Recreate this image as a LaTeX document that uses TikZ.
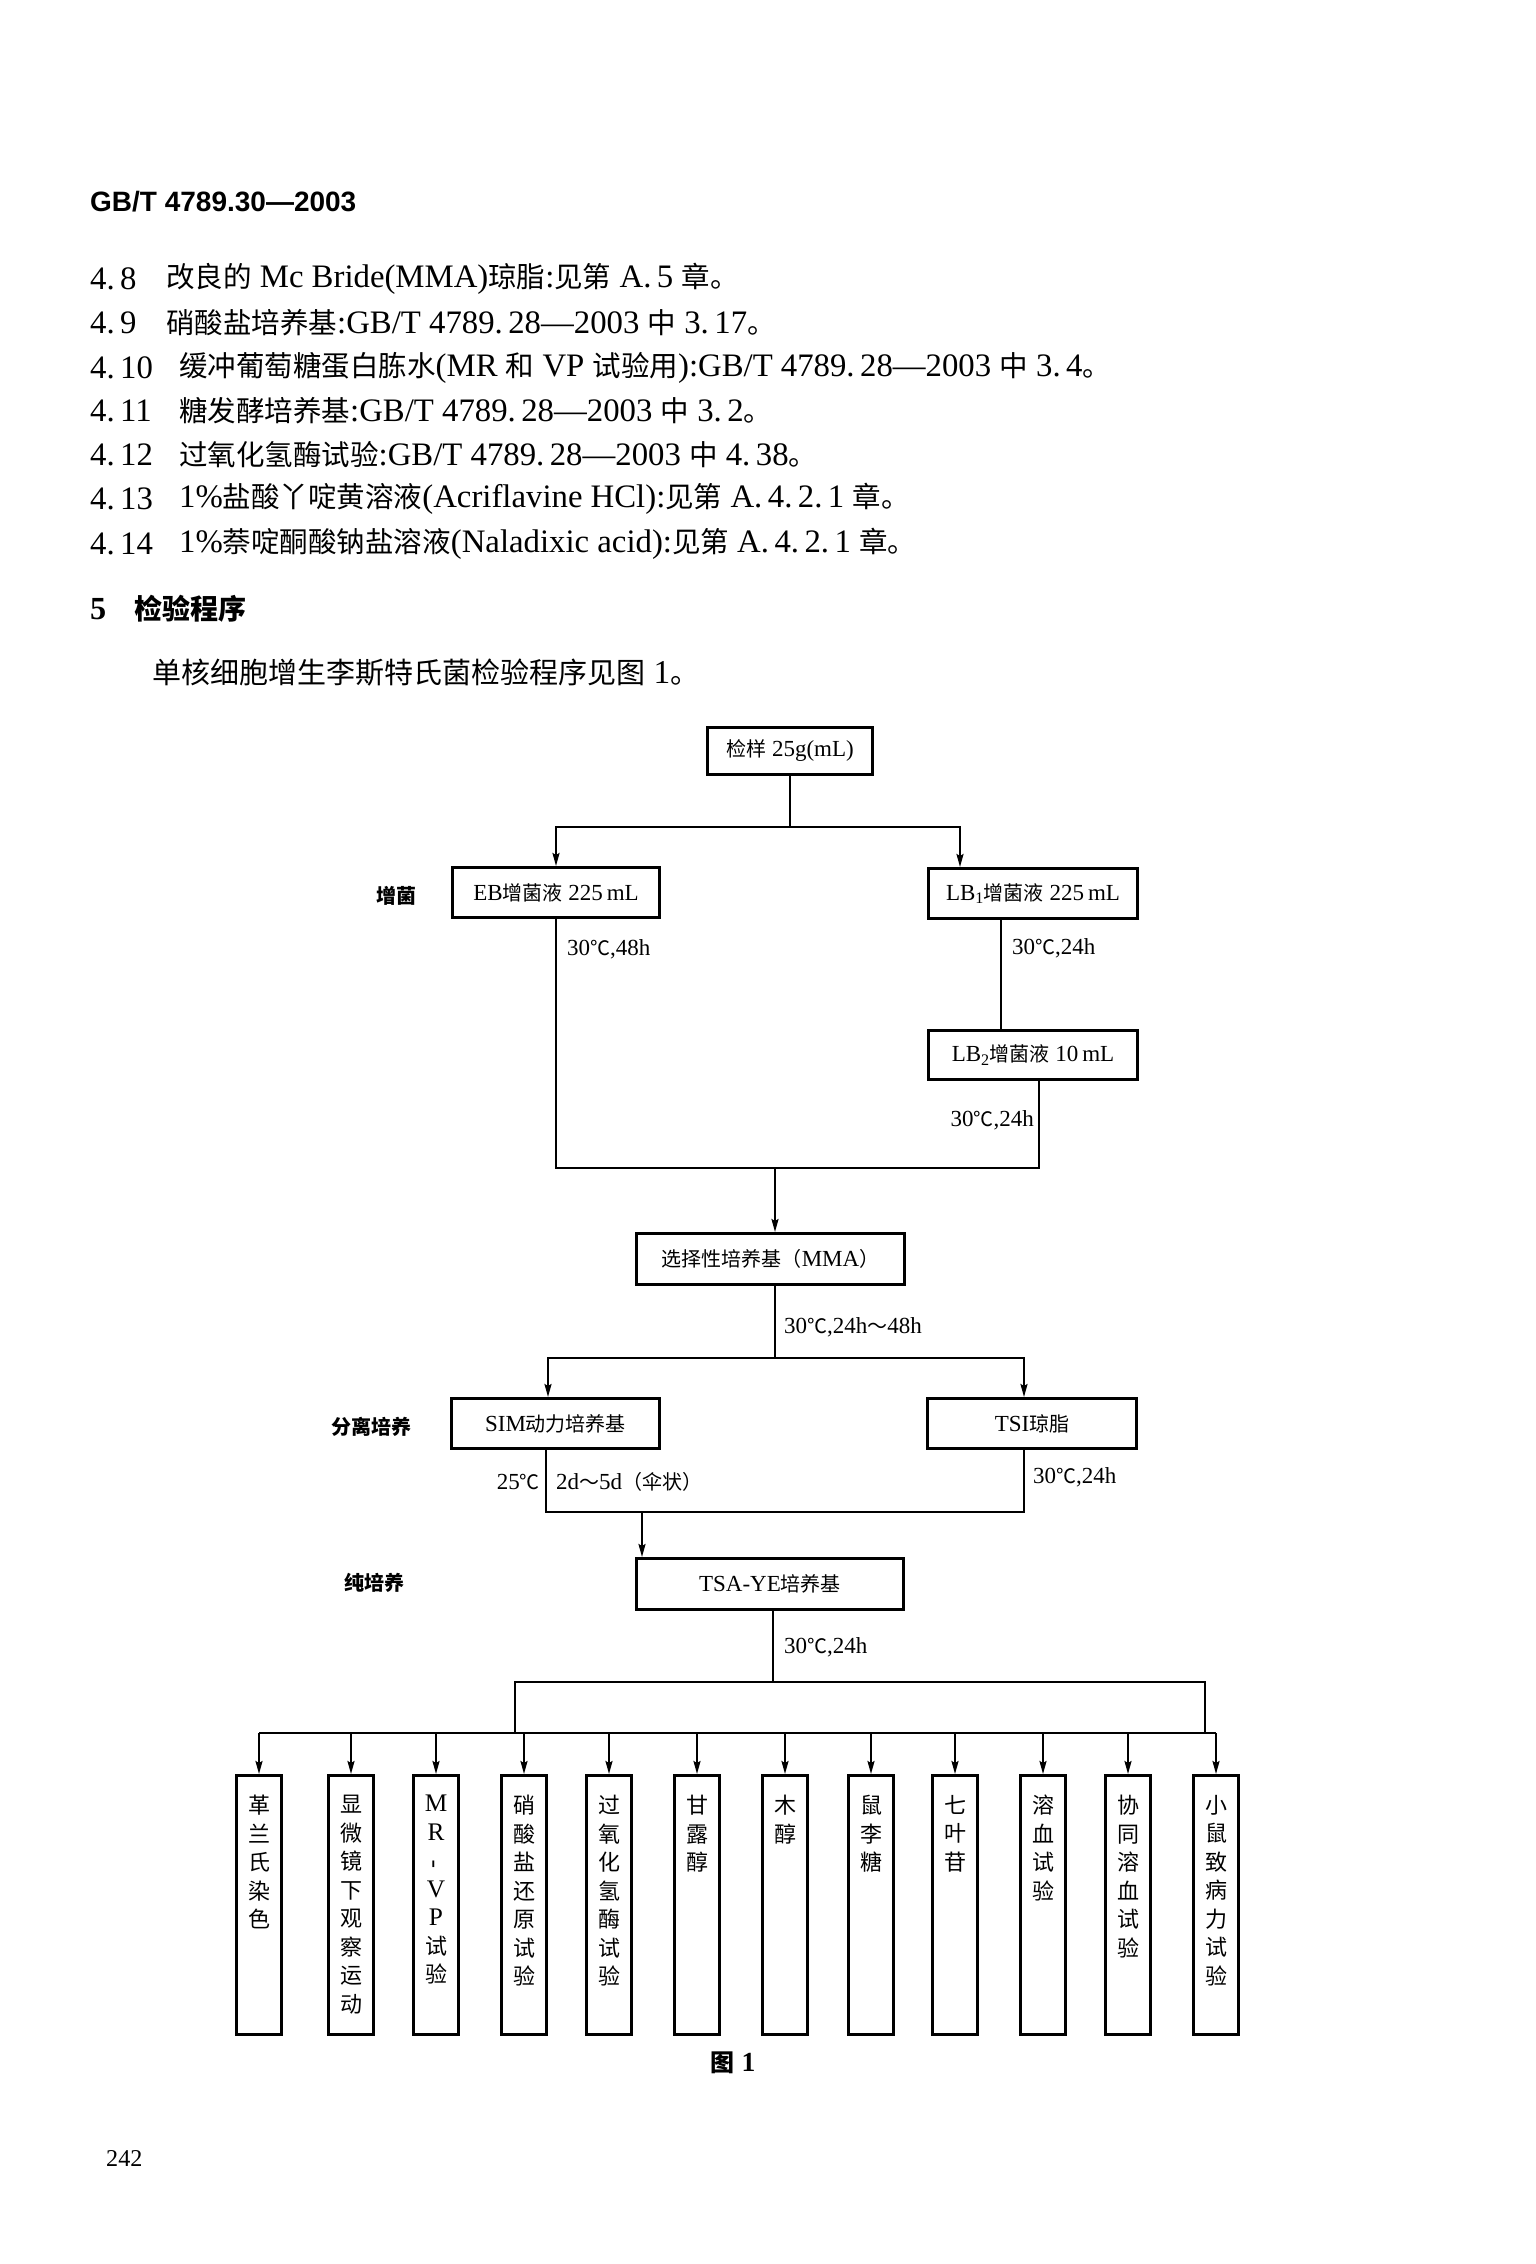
\documentclass[tikz,border=0pt]{standalone}
\usepackage{fontspec}
\setmainfont{Liberation Serif}[Scale=1.15]
\newfontfamily\lat{Liberation Serif}[Scale=1.15]
\newfontfamily\cjk{Noto Sans CJK SC}
\newfontfamily\hdr{Liberation Sans}
\usetikzlibrary{arrows.meta}
\XeTeXinterchartokenstate=1
\newXeTeXintercharclass\CJKcls
\newcount\cjkc
\cjkc="2E80
\loop\ifnum\cjkc<"A000 \XeTeXcharclass\cjkc=\CJKcls \advance\cjkc by 1 \repeat
\cjkc="FF00
\loop\ifnum\cjkc<"FFF0 \XeTeXcharclass\cjkc=\CJKcls \advance\cjkc by 1 \repeat
\XeTeXcharclass"2103=\CJKcls
\XeTeXinterchartoks 0 \CJKcls = {\cjk}
\XeTeXinterchartoks 4095 \CJKcls = {\cjk}
\XeTeXinterchartoks \CJKcls 0 = {\lat}
\XeTeXinterchartoks \CJKcls 4095 = {\lat}
\begin{document}
\begin{tikzpicture}[x=1pt,y=-1pt,
  box/.style={draw, line width=3pt, inner sep=0pt, font=\fontsize{20}{24}\selectfont},
  vbox/.style={draw, line width=3pt, inner sep=0pt, minimum width=45pt, minimum height=259pt},
  vtext/.style={align=center, inner sep=0pt, anchor=north, font=\fontsize{22}{28.5}\selectfont},
  conn/.style={line width=2pt},
  arr/.style={line width=2pt, -{Stealth[length=13pt,width=7pt,inset=2pt]}},
  cond/.style={inner sep=0pt, font=\fontsize{20}{24}\selectfont},
  side/.style={inner sep=0pt, font=\bfseries\fontsize{20}{24}\selectfont},
  para/.style={inner sep=0pt, anchor=west, font=\fontsize{28.5}{32}\selectfont},
]
\fill[white] (0,0) rectangle (1536,2264);
\useasboundingbox (0,0) rectangle (1536,2264);

% header and text
\node[anchor=west, inner sep=0pt, font=\hdr\bfseries\fontsize{28}{32}\selectfont] (hdr) at (90,202) {GB/T 4789.30—2003};
\node[para] (n48) at (90,279) {4.\,8};
\node[para] (t48) at (166,279) {改良的 Mc Bride(MMA)琼脂:见第 A.\,5 章。};
\node[para] (n49) at (90,323) {4.\,9};
\node[para] (t49) at (166,323) {硝酸盐培养基:GB/T 4789.\,28—2003 中 3.\,17。};
\node[para] (n410) at (90,368) {4.\,10};
\node[para] (t410) at (179,368) {缓冲葡萄糖蛋白胨水(MR 和 VP 试验用):GB/T 4789.\,28—2003 中 3.\,4。};
\node[para] (n411) at (90,411) {4.\,11};
\node[para] (t411) at (179,411) {糖发酵培养基:GB/T 4789.\,28—2003 中 3.\,2。};
\node[para] (n412) at (90,455) {4.\,12};
\node[para] (t412) at (179,455) {过氧化氢酶试验:GB/T 4789.\,28—2003 中 4.\,38。};
\node[para] (n413) at (90,499) {4.\,13};
\node[para] (t413) at (179,499) {1\%盐酸丫啶黄溶液(Acriflavine HCl):见第 A.\,4.\,2.\,1 章。};
\node[para] (n414) at (90,544) {4.\,14};
\node[para] (t414) at (179,544) {1\%萘啶酮酸钠盐溶液(Naladixic acid):见第 A.\,4.\,2.\,1 章。};
\node[para, font=\bfseries\fontsize{28}{32}\selectfont] (sec5) at (90,609) {5};
\node[para, font=\bfseries\fontsize{28}{32}\selectfont] (secT) at (134,609) {检验程序};
\node[para, font=\fontsize{29}{32}\selectfont] (intro) at (152,673) {单核细胞增生李斯特氏菌检验程序见图 1。};

% boxes
\node[box, minimum width=165pt, minimum height=47pt] (top) at (790,751) {检样 25g(mL)};
\node[box, minimum width=207pt, minimum height=50pt] (EB) at (556,892.5) {EB增菌液 225\,mL};
\node[box, minimum width=209pt, minimum height=50pt] (LB1) at (1033,893.5) {LB\textsubscript{1}增菌液 225\,mL};
\node[box, minimum width=209pt, minimum height=49pt] (LB2) at (1033,1055) {LB\textsubscript{2}增菌液 10\,mL};
\node[box, minimum width=268pt, minimum height=51pt] (MMA) at (770.5,1259) {选择性培养基（MMA）};
\node[box, minimum width=208pt, minimum height=50pt] (SIM) at (555.5,1423.5) {SIM动力培养基};
\node[box, minimum width=209pt, minimum height=50pt] (TSI) at (1032,1423.5) {TSI琼脂};
\node[box, minimum width=267pt, minimum height=51pt] (TSA) at (770,1584) {TSA-YE培养基};

% side labels
\node[side] (l1) at (396,896) {增菌};
\node[side] (l2) at (371,1427) {分离培养};
\node[side] (l3) at (374,1583) {纯培养};

% test boxes
\node[vbox] (b1) at (259,1905) {};
\node[vbox] (b2) at (351,1905) {};
\node[vbox] (b3) at (436,1905) {};
\node[vbox] (b4) at (524,1905) {};
\node[vbox] (b5) at (609,1905) {};
\node[vbox] (b6) at (697,1905) {};
\node[vbox] (b7) at (785,1905) {};
\node[vbox] (b8) at (871,1905) {};
\node[vbox] (b9) at (955,1905) {};
\node[vbox] (b10) at (1043,1905) {};
\node[vbox] (b11) at (1128,1905) {};
\node[vbox] (b12) at (1216,1905) {};
\node[vtext] (v1) at (b1.north |- 0,1795) {革\\兰\\氏\\染\\色};
\node[vtext] (v2) at (b2.north |- 0,1795) {显\\微\\镜\\下\\观\\察\\运\\动};
\node[vtext] (v3) at (b3.north |- 0,1795) {M\\R\\\rotatebox{90}{-}\\V\\P\\试\\验};
\node[vtext] (v4) at (b4.north |- 0,1795) {硝\\酸\\盐\\还\\原\\试\\验};
\node[vtext] (v5) at (b5.north |- 0,1795) {过\\氧\\化\\氢\\酶\\试\\验};
\node[vtext] (v6) at (b6.north |- 0,1795) {甘\\露\\醇};
\node[vtext] (v7) at (b7.north |- 0,1795) {木\\醇};
\node[vtext] (v8) at (b8.north |- 0,1795) {鼠\\李\\糖};
\node[vtext] (v9) at (b9.north |- 0,1795) {七\\叶\\苷};
\node[vtext] (v10) at (b10.north |- 0,1795) {溶\\血\\试\\验};
\node[vtext] (v11) at (b11.north |- 0,1795) {协\\同\\溶\\血\\试\\验};
\node[vtext] (v12) at (b12.north |- 0,1795) {小\\鼠\\致\\病\\力\\试\\验};

% junctions
\coordinate (j1) at (790,827);
\coordinate (j2) at (775,1168);
\coordinate (j3) at (775,1358);
\coordinate (j4) at (642,1512);
\coordinate (j5) at (773,1682);
\coordinate (j6) at (515,1682);
\coordinate (j7) at (1205,1682);
\coordinate (jb) at (0,1733);

% connectors
\draw[conn] (top.south) -- (j1);
\draw[arr] (j1) -| (EB.north);
\draw[arr] (j1) -| ([xshift=-73pt]LB1.north);
\draw[conn] ([xshift=-32pt]LB1.south) -- ([xshift=-32pt]LB2.north);
\draw[conn] (EB.south) |- (j2);
\draw[conn] ([xshift=6pt]LB2.south) |- (j2);
\draw[arr] (j2) -- (j2 |- MMA.north);
\draw[conn] (j3 |- MMA.south) -- (j3);
\draw[arr] (j3) -| ([xshift=-7.5pt]SIM.north);
\draw[arr] (j3) -| ([xshift=-8pt]TSI.north);
\draw[conn] ([xshift=-9.5pt]SIM.south) |- (j4);
\draw[conn] ([xshift=-8pt]TSI.south) |- (j4);
\draw[arr] (j4) -- (j4 |- TSA.north);
\draw[conn] (j5 |- TSA.south) -- (j5);
\draw[conn] (j6 |- jb) -- (j6) -- (j7) -- (j7 |- jb);
\draw[conn] (b1.north |- jb) -- (b12.north |- jb);
\foreach \i in {1,...,12} \draw[arr] (b\i.north |- jb) -- (b\i.north);

% condition labels
\node[cond, anchor=west] (c1) at (567,949) {30℃,48h};
\node[cond, anchor=west] (c2) at (1012,948) {30℃,24h};
\node[cond, anchor=east] (c3) at (1034,1120) {30℃,24h};
\node[cond, anchor=west] (c4) at (784,1327) {30℃,24h～48h};
\node[cond, anchor=east] (c5) at (540,1482) {25℃};
\node[cond, anchor=west] (c6) at (556,1482) {2d～5d（伞状）};
\node[cond, anchor=west] (c7) at (1033,1477) {30℃,24h};
\node[cond, anchor=west] (c8) at (784,1647) {30℃,24h};

% caption and page number
\node[inner sep=0pt, font=\bfseries\fontsize{24}{28}\selectfont] (fig) at (733,2063) {图 1};
\node[anchor=west, inner sep=0pt, font=\fontsize{21}{24}\selectfont] (pg) at (106,2158) {242};
\end{tikzpicture}
\end{document}
